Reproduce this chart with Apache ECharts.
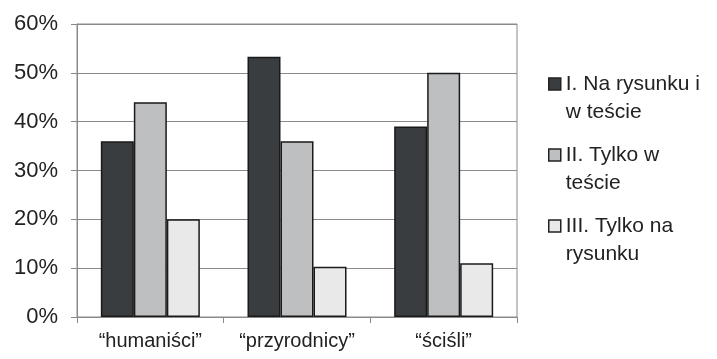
<!DOCTYPE html>
<html><head><meta charset="utf-8">
<script src="https://cdn.jsdelivr.net/npm/echarts@6/dist/echarts.min.js"></script>
<style>html,body{margin:0;padding:0;background:#fff}#c{width:717px;height:359px}</style>
</head><body><div id="c"></div>
<script>
const categories = ['“humaniści”', '“przyrodnicy”', '“ściśli”'];
const seriesNames = ['I. Na rysunku i\nw teście', 'II. Tylko w\nteście', 'III. Tylko na\nrysunku'];
const seriesI = [36, 53.3, 39];
const seriesII = [44, 36, 50];
const seriesIII = [20, 10.3, 11];
const yTicks = [0, 10, 20, 30, 40, 50, 60];

const colors = ['#3a3d40', '#bdbfc1', '#e9e9e9'];
const FONT = 'Liberation Sans, Arial, sans-serif';
const chart = echarts.init(document.getElementById('c'));
const values = [seriesI, seriesII, seriesIII];
chart.setOption({
  animation: false,
  grid: { left: 77, right: 200, top: 24, bottom: 42, show: true, borderColor: '#8a8a8a', borderWidth: 1 },
  legend: {
    orient: 'vertical', left: 543, top: 37,
    itemWidth: 12, itemHeight: 12, itemGap: -13,
    icon: 'rect',
    itemStyle: { borderColor: '#222', borderWidth: 1.5 },
    formatter: n => '\n' + n,
    textStyle: { fontFamily: FONT, fontSize: 21, color: '#222', lineHeight: 28 },
    data: seriesNames
  },
  xAxis: {
    type: 'category', data: categories,
    axisLine: { lineStyle: { color: '#8a8a8a', width: 1 } },
    axisTick: { show: true, length: 6, lineStyle: { color: '#8a8a8a' } },
    axisLabel: { fontFamily: FONT, fontSize: 20, color: '#222', margin: 14, interval: 0, hideOverlap: false }
  },
  yAxis: {
    type: 'value', min: yTicks[0], max: yTicks[yTicks.length - 1], interval: 10,
    axisLine: { show: true, lineStyle: { color: '#8a8a8a', width: 1 } },
    axisTick: { show: true, length: 6, lineStyle: { color: '#8a8a8a' } },
    splitLine: { lineStyle: { color: '#8a8a8a', width: 1 } },
    axisLabel: { fontFamily: FONT, fontSize: 22, color: '#222', margin: 19, formatter: '{value}%' }
  },
  series: seriesNames.map((n, i) => ({
    name: n, type: 'bar', data: values[i],
    barGap: 0, barCategoryGap: '32.5%',
    itemStyle: { color: colors[i], borderColor: '#1a1a1a', borderWidth: 1.5 }
  }))
});
</script></body></html>
